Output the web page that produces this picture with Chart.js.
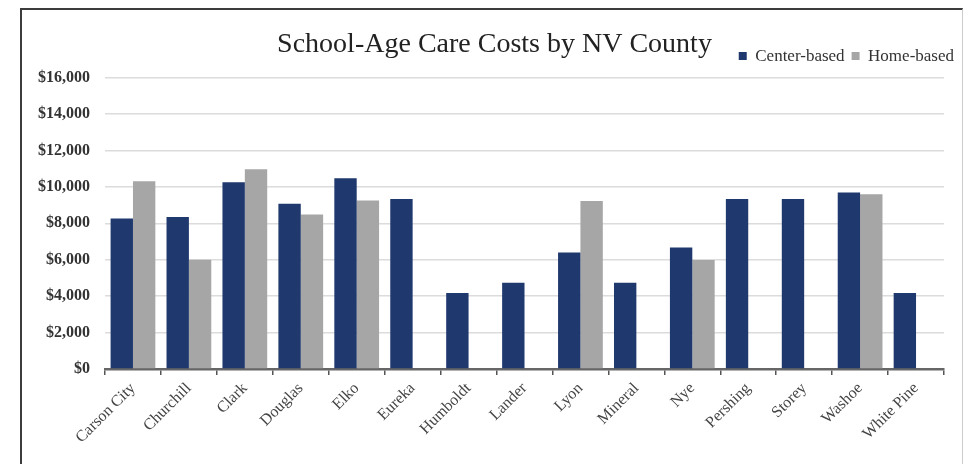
<!DOCTYPE html>
<html>
<head>
<meta charset="utf-8">
<script src="https://cdn.jsdelivr.net/npm/chart.js@4"></script>
<style>
  html, body { margin: 0; padding: 0; background: #fff; overflow: hidden; }
  #wrap { position: relative; width: 963px; height: 464px; }
  #frame { position: absolute; left: 20px; top: 8px; width: 940px; height: 480px;
           border-left: 2px solid #3c3c3c; border-top: 2px solid #3c3c3c; border-right: 1px solid #ccc;
           pointer-events: none; }
</style>
</head>
<body>
<div id="wrap">
  <canvas id="costs" width="963" height="464"></canvas>
  <div id="frame"></div>
</div>
<script>
  const counties = ['Carson City', 'Churchill', 'Clark', 'Douglas', 'Elko', 'Eureka', 'Humboldt',
    'Lander', 'Lyon', 'Mineral', 'Nye', 'Pershing', 'Storey', 'Washoe', 'White Pine'];

  const centerBased = [8270, 8350, 10260, 9080, 10480, 9340, 4170, 4740, 6400, 4740, 6670, 9340, 9340, 9690, 4170];
  const homeBased = [10310, 6000, 10970, 8490, 9250, null, null, null, 9230, null, 5990, null, null, 9600, null];

  const yTicks = [0, 2000, 4000, 6000, 8000, 10000, 12000, 14000, 16000];

  const serif = "'Liberation Serif', 'Times New Roman', serif";

  const costs = {
    labels: counties,
    datasets: [{
      label: 'Center-based',
      backgroundColor: 'rgb(31, 56, 110)',
      data: centerBased,
    },
    {
      label: 'Home-based',
      backgroundColor: 'rgb(166, 166, 166)',
      data: homeBased,
    }]
  };

  // spacer axes only push the plot area around, they draw nothing
  const spacer = (w, h) => ({
    display: true,
    grid: { display: false },
    border: { display: false },
    ticks: { display: false },
    afterFit: (axis) => { if (w) axis.width = w; if (h) axis.height = h; },
  });

  const config = {
    type: 'bar',
    data: costs,
    options: {
      responsive: false,
      animation: false,
      categoryPercentage: 0.8,
      barPercentage: 1.0,
      layout: { padding: { left: 28, right: 2, top: 0, bottom: 13 } },
      plugins: {
        tooltip: { enabled: false },
        title: {
          display: true,
          text: 'School-Age Care Costs by NV County',
          color: '#222',
          font: { family: serif, size: 28, weight: 'normal' },
          padding: { top: 28, bottom: -21 },
        },
        legend: {
          position: 'top',
          align: 'end',
          labels: {
            color: '#333',
            font: { family: serif, size: 17 },
            boxWidth: 8,
            boxHeight: 8,
            padding: 7,
          }
        }
      },
      scales: {
        x: {
          grid: { drawOnChartArea: false, drawTicks: true, tickLength: 6, color: '#555', lineWidth: 1.5 },
          border: { color: '#666', width: 2.5 },
          ticks: { color: '#444', font: { family: serif, size: 16 }, minRotation: 45, maxRotation: 45, padding: 4 },
        },
        y: {
          min: 0,
          max: 16000,
          afterBuildTicks: (axis) => { axis.ticks = yTicks.map(v => ({ value: v })); },
          afterFit: (axis) => { axis.width = 77; },
          grid: { color: '#dcdcdc', lineWidth: 1.5, drawTicks: false },
          border: { display: false },
          ticks: {
            color: '#333',
            padding: 15,
            font: { family: serif, size: 16, weight: 'bold' },
            callback: (v) => '$' + v.toLocaleString('en-US'),
          }
        },
        y2: Object.assign({ position: 'right' }, spacer(17, 0)),
        x2: Object.assign({ position: 'top' }, spacer(0, 3)),
      }
    }
  };

  const chart = new Chart(document.getElementById('costs'), config);
</script>
</body>
</html>
